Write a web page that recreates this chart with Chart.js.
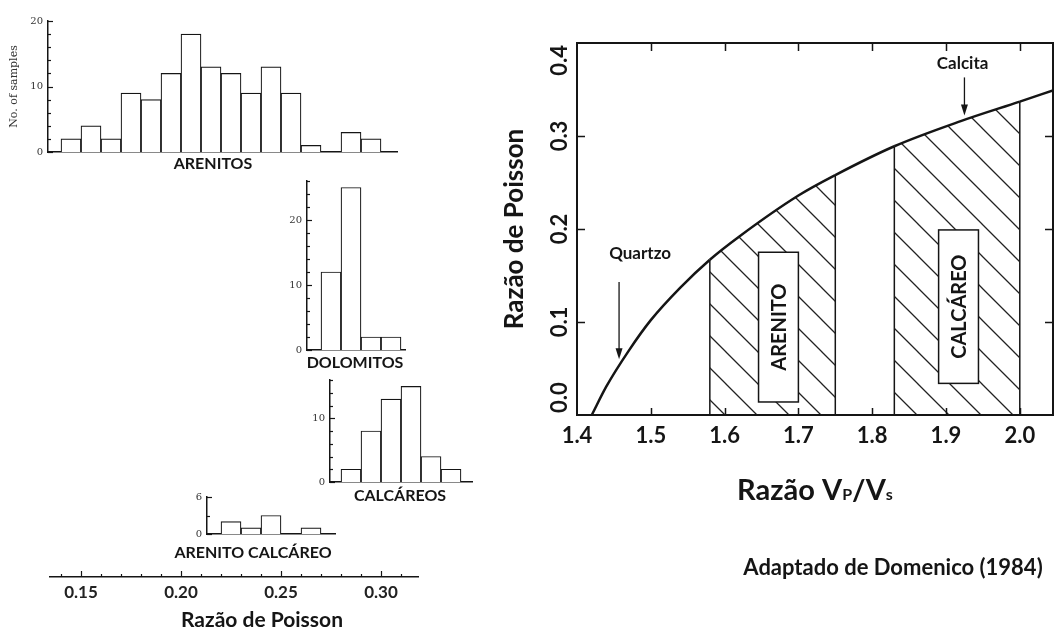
<!DOCTYPE html>
<html>
<head>
<meta charset="utf-8">
<script src="https://cdn.jsdelivr.net/npm/chart.js@4.4.1/dist/chart.umd.min.js"></script>
<style>
  html, body { margin: 0; padding: 0; background: #fff; }
  #wrap { position: relative; width: 1055px; height: 636px; overflow: hidden; background: #fff; }
  #wrap canvas { position: absolute; }
</style>
</head>
<body>
<div id="wrap"></div>
<script>
// ---- left: histograms (Poisson ratio bins, left edges, width 0.01) ----
const arenitosBins      = [0.14, 0.15, 0.16, 0.17, 0.18, 0.19, 0.20, 0.21, 0.22, 0.23, 0.24, 0.25, 0.26, 0.27, 0.28, 0.29];
const arenitosCounts    = [2, 4, 2, 9, 8, 12, 18, 13, 12, 9, 13, 9, 1, 0, 3, 2];
const dolomitosBins     = [0.27, 0.28, 0.29, 0.30];
const dolomitosCounts   = [12, 25, 2, 2];
const calcareosBins     = [0.28, 0.29, 0.30, 0.31, 0.32, 0.33];
const calcareosCounts   = [2, 8, 13, 15, 4, 2];
const arenitoCalcBins   = [0.22, 0.23, 0.24, 0.25, 0.26];
const arenitoCalcCounts = [2, 1, 3, 0, 1];
const binWidth = 0.01;

const poissonTicks      = [0.15, 0.20, 0.25, 0.30];
const poissonTickLabels = ['0.15', '0.20', '0.25', '0.30'];

// ---- right: Poisson ratio vs Vp/Vs ----
const vpvsRatio   = [1.42, 1.44, 1.47, 1.50, 1.54, 1.58, 1.62, 1.70, 1.75, 1.83, 1.92, 2.00, 2.045];
const poissonVal  = [0.000, 0.031, 0.069, 0.102, 0.137, 0.167, 0.192, 0.236, 0.258, 0.289, 0.316, 0.337, 0.349];
const arenitoRange  = [1.58, 1.75];
const calcareoRange = [1.83, 2.00];

const vpvsTicks       = [1.4, 1.5, 1.6, 1.7, 1.8, 1.9, 2.0];
const vpvsTickLabels  = ['1.4', '1.5', '1.6', '1.7', '1.8', '1.9', '2.0'];
const poisTicks       = [0.0, 0.1, 0.2, 0.3, 0.4];
const poisTickLabels  = ['0.0', '0.1', '0.2', '0.3', '0.4'];

const ink = '#151515';
const wrap = document.getElementById('wrap');

function addCanvas(left, top, w, h) {
  const c = document.createElement('canvas');
  c.width = w; c.height = h;
  c.style.left = left + 'px'; c.style.top = top + 'px';
  c.style.width = w + 'px'; c.style.height = h + 'px';
  wrap.appendChild(c);
  return c;
}

function labelFor(v, vals, labels) {
  const i = vals.findIndex(t => Math.abs(t - v) < 1e-6);
  return i >= 0 ? labels[i] : '';
}

// page x pixel <-> Poisson ratio on the left side
const toVal = px => 0.15 + (px - 81) / 2000;

const panels = [
  { name: 'ARENITOS', bins: arenitosBins, counts: arenitosCounts, yMax: 20, yStep: 2, yLabels: [0, 10, 20],
    axisX: 48, xEnd: 397, baseY: 152, topY: 18, nameX: 213, nameDy: 12, W: 48, yTitle: 'No. of samples' },
  { name: 'DOLOMITOS', bins: dolomitosBins, counts: dolomitosCounts, yMax: 26, yStep: 2, yLabels: [0, 10, 20],
    axisX: 307, xEnd: 405, baseY: 350, topY: 178, nameX: 355, nameDy: 13, W: 26 },
  { name: 'CALCÁREOS', bins: calcareosBins, counts: calcareosCounts, yMax: 16, yStep: 2, yLabels: [0, 10],
    axisX: 330, xEnd: 472, baseY: 482, topY: 377, nameX: 400, nameDy: 14, W: 26 },
  { name: 'ARENITO CALCÁREO', bins: arenitoCalcBins, counts: arenitoCalcCounts, yMax: 6, yStep: 3, yLabels: [0, 6],
    axisX: 207, xEnd: 335, baseY: 534, topY: 494, nameX: 253, nameDy: 19, W: 70 }
];

const histDecor = {
  id: 'histDecor',
  afterDraw(chart, args, o) {
    const { ctx, chartArea: a, scales: { y } } = chart;
    ctx.save();
    ctx.strokeStyle = ink; ctx.lineWidth = 1.2;
    y.ticks.forEach(t => {
      const py = Math.round(y.getPixelForValue(t.value)) + 0.5;
      const len = o.yLabels.includes(t.value) ? 5 : 3;
      ctx.beginPath(); ctx.moveTo(a.left, py); ctx.lineTo(a.left + len, py); ctx.stroke();
    });
    ctx.fillStyle = ink;
    ctx.font = 'bold 16px Lato';
    ctx.textAlign = 'center'; ctx.textBaseline = 'middle';
    ctx.fillText(o.name, o.nameX, a.bottom + o.nameDy);
    ctx.restore();
  }
};

const PT = 8, HB = 30;
panels.forEach(p => {
  const left = p.axisX - p.W, top = p.topY - PT;
  const w = p.W + (p.xEnd - p.axisX) + 2;
  const h = PT + (p.baseY - p.topY) + HB;
  const cv = addCanvas(left, top, w, h);
  new Chart(cv, {
    type: 'bar',
    data: {
      datasets: [{
        data: p.bins.map((b, i) => ({ x: b + binWidth / 2, y: p.counts[i] })),
        backgroundColor: '#fff',
        borderColor: ink,
        borderWidth: 1.2,
        barPercentage: 1,
        categoryPercentage: 1
      }]
    },
    options: {
      responsive: false, animation: false, devicePixelRatio: 1,
      layout: { padding: { top: PT, right: 2, bottom: 0, left: 0 } },
      plugins: {
        legend: { display: false }, tooltip: { enabled: false },
        histDecor: { yLabels: p.yLabels, name: p.name, nameX: p.nameX - left, nameDy: p.nameDy }
      },
      scales: {
        x: {
          type: 'linear', min: toVal(p.axisX), max: toVal(p.xEnd), offset: false,
          grid: { display: false, offset: false },
          border: { display: true, color: ink, width: 1.5 },
          ticks: { display: false },
          afterFit: s => { s.height = HB; }
        },
        y: {
          min: 0, max: p.yMax,
          grid: { display: false, drawTicks: false },
          border: { display: true, color: ink, width: 1.5 },
          ticks: {
            stepSize: p.yStep, autoSkip: false, padding: 5, color: '#333',
            font: { family: 'DejaVu Serif', size: 10 },
            callback: v => p.yLabels.includes(v) ? String(v) : ''
          },
          title: p.yTitle ? { display: true, text: p.yTitle, color: '#333',
                              font: { family: 'DejaVu Serif', size: 11 }, padding: { top: 8 } } : { display: false },
          afterFit: s => { s.width = p.W; }
        }
      }
    },
    plugins: [histDecor]
  });
});

// shared Poisson axis under the histograms
const axisDecor = {
  id: 'axisDecor',
  afterDraw(chart) {
    const { ctx, chartArea: a, scales: { x } } = chart;
    ctx.save();
    ctx.strokeStyle = ink; ctx.lineWidth = 1.2;
    x.ticks.forEach(t => {
      const k = t.value * 100;
      if (Math.abs(k - Math.round(k)) > 1e-6) return;
      const major = labelFor(t.value, poissonTicks, poissonTickLabels) !== '';
      const px = Math.round(x.getPixelForValue(t.value)) + 0.5;
      ctx.beginPath(); ctx.moveTo(px, a.bottom); ctx.lineTo(px, a.bottom - (major ? 6 : 3)); ctx.stroke();
    });
    ctx.fillStyle = ink;
    ctx.font = 'bold 21px Lato';
    ctx.textAlign = 'center'; ctx.textBaseline = 'middle';
    ctx.fillText('Razão de Poisson', x.getPixelForValue(0.2405), a.bottom + 43);
    ctx.restore();
  }
};

new Chart(addCanvas(30, 540, 420, 96), {
  type: 'line',
  data: { datasets: [] },
  options: {
    responsive: false, animation: false, devicePixelRatio: 1,
    layout: { padding: { left: 20, right: 32, top: 30, bottom: 0 } },
    plugins: { legend: { display: false }, tooltip: { enabled: false } },
    scales: {
      x: {
        type: 'linear', min: toVal(50), max: toVal(418),
        grid: { display: false, drawTicks: false },
        border: { display: true, color: ink, width: 1.5 },
        ticks: {
          stepSize: 0.01, includeBounds: false, autoSkip: false, maxRotation: 0, padding: 5,
          color: '#222', font: { family: 'Lato', weight: 'bold', size: 17 },
          callback: v => labelFor(v, poissonTicks, poissonTickLabels)
        },
        afterFit: s => { s.height = 59; }
      },
      y: { display: false }
    }
  },
  plugins: [axisDecor]
});

// ---- right chart ----
function makeHatch(step) {
  const c = document.createElement('canvas');
  c.width = c.height = step;
  const g = c.getContext('2d');
  g.strokeStyle = '#222'; g.lineWidth = 1.3;
  g.beginPath();
  g.moveTo(0, 0); g.lineTo(step, step);
  g.moveTo(-3, step - 3); g.lineTo(3, step + 3);
  g.moveTo(step - 3, -3); g.lineTo(step + 3, 3);
  g.stroke();
  return g.createPattern(c, 'repeat');
}
const hatch = makeHatch(32);
const hatchRanges = [arenitoRange, calcareoRange];
const inHatch = (x0, x1) => hatchRanges.some(r => x0 >= r[0] - 1e-9 && x1 <= r[1] + 1e-9);

const curvePoints = vpvsRatio.map((v, i) => ({ x: v, y: poissonVal[i] }));
const edgeLine = xv => ({
  data: [{ x: xv, y: 0 }, { x: xv, y: poissonVal[vpvsRatio.indexOf(xv)] }],
  borderColor: ink, borderWidth: 1.5, pointRadius: 0, fill: false
});

// annotation placement (data units)
const boxes = [
  { text: 'ARENITO',  x0: 1.646, x1: 1.700, y0: 0.014, y1: 0.175 },
  { text: 'CALCÁREO', x0: 1.890, x1: 1.944, y0: 0.034, y1: 0.199 }
];
const pointers = [
  { text: 'Quartzo', tx: 1.4855, ty: 0.174, ax: 1.457, ay0: 0.143, ay1: 0.060 },
  { text: 'Calcita', tx: 1.9225, ty: 0.378, ax: 1.925, ay0: 0.363, ay1: 0.322 }
];

const sketchDecor = {
  id: 'sketchDecor',
  afterDatasetsDraw(chart) {
    const { ctx, chartArea: a, scales: { x, y } } = chart;
    ctx.save();
    ctx.strokeStyle = ink; ctx.fillStyle = ink;

    // frame
    ctx.lineWidth = 2;
    ctx.strokeRect(a.left, a.top, a.right - a.left, a.bottom - a.top);

    // inward ticks
    ctx.lineWidth = 1.5;
    vpvsTicks.slice(1).forEach(v => {
      const px = Math.round(x.getPixelForValue(v)) + 0.5;
      ctx.beginPath();
      ctx.moveTo(px, a.top); ctx.lineTo(px, a.top + 8);
      ctx.moveTo(px, a.bottom); ctx.lineTo(px, a.bottom - 7);
      ctx.stroke();
    });
    poisTicks.slice(1, -1).forEach(v => {
      const py = Math.round(y.getPixelForValue(v)) + 0.5;
      ctx.beginPath();
      ctx.moveTo(a.left, py); ctx.lineTo(a.left + 8, py);
      ctx.moveTo(a.right, py); ctx.lineTo(a.right - 8, py);
      ctx.stroke();
    });

    // rotated y tick labels
    ctx.font = 'bold 22px Lato';
    ctx.textAlign = 'center'; ctx.textBaseline = 'middle';
    poisTicks.forEach((v, i) => {
      const t = poisTickLabels[i];
      const hw = ctx.measureText(t).width / 2;
      let py = y.getPixelForValue(v);
      py = Math.min(Math.max(py, a.top + hw + 2), a.bottom - hw - 2);
      ctx.save(); ctx.translate(a.left - 17, py); ctx.rotate(-Math.PI / 2);
      ctx.fillText(t, 0, 0); ctx.restore();
    });

    // labelled boxes
    boxes.forEach(b => {
      const x0 = x.getPixelForValue(b.x0), x1 = x.getPixelForValue(b.x1);
      const y0 = y.getPixelForValue(b.y0), y1 = y.getPixelForValue(b.y1);
      ctx.fillStyle = '#fff';
      ctx.fillRect(x0, y1, x1 - x0, y0 - y1);
      ctx.lineWidth = 1.5; ctx.strokeRect(x0, y1, x1 - x0, y0 - y1);
      ctx.fillStyle = ink;
      ctx.font = 'bold 20px Lato';
      ctx.save(); ctx.translate((x0 + x1) / 2, (y0 + y1) / 2); ctx.rotate(-Math.PI / 2);
      ctx.fillText(b.text, 0, 1); ctx.restore();
    });

    // pointers
    pointers.forEach(p => {
      ctx.font = 'bold 17px Lato';
      ctx.fillText(p.text, x.getPixelForValue(p.tx), y.getPixelForValue(p.ty));
      const px = x.getPixelForValue(p.ax);
      const pa = y.getPixelForValue(p.ay0), pb = y.getPixelForValue(p.ay1);
      ctx.lineWidth = 1.3;
      ctx.beginPath(); ctx.moveTo(px, pa); ctx.lineTo(px, pb - 8); ctx.stroke();
      ctx.beginPath(); ctx.moveTo(px, pb); ctx.lineTo(px - 3.5, pb - 11); ctx.lineTo(px + 3.5, pb - 11);
      ctx.closePath(); ctx.fill();
    });

    // x title with small P / s
    const parts = [['Razão V', 29], ['P', 16], ['/V', 29], ['s', 16]];
    let total = 0;
    const widths = parts.map(p => { ctx.font = `bold ${p[1]}px Lato`; const w = ctx.measureText(p[0]).width; total += w; return w; });
    let cx = (a.left + a.right) / 2 - total / 2;
    ctx.textAlign = 'left'; ctx.textBaseline = 'alphabetic';
    parts.forEach((p, i) => {
      ctx.font = `bold ${p[1]}px Lato`;
      ctx.fillText(p[0], cx, a.bottom + 85);
      cx += widths[i];
    });

    // source note
    ctx.font = 'bold 22px Lato';
    ctx.textAlign = 'center';
    ctx.fillText('Adaptado de Domenico (1984)', 423, a.bottom + 160);
    ctx.restore();
  }
};

new Chart(addCanvas(470, 0, 585, 636), {
  type: 'line',
  data: {
    datasets: [
      {
        data: curvePoints,
        borderColor: ink, borderWidth: 2.5, pointRadius: 0,
        cubicInterpolationMode: 'monotone',
        fill: 'origin',
        backgroundColor: 'rgba(0,0,0,0)',
        segment: {
          backgroundColor: c => inHatch(c.p0.parsed.x, c.p1.parsed.x) ? hatch : 'rgba(0,0,0,0)'
        }
      },
      edgeLine(arenitoRange[0]), edgeLine(arenitoRange[1]),
      edgeLine(calcareoRange[0]), edgeLine(calcareoRange[1])
    ]
  },
  options: {
    responsive: false, animation: false, devicePixelRatio: 1,
    layout: { padding: { top: 43, right: 2, bottom: 0, left: 0 } },
    plugins: { legend: { display: false }, tooltip: { enabled: false } },
    scales: {
      x: {
        type: 'linear', min: 1.4, max: 2.045,
        grid: { display: false, drawTicks: false },
        border: { display: false },
        ticks: {
          stepSize: 0.1, includeBounds: false, autoSkip: false, maxRotation: 0, padding: 8,
          color: ink, font: { family: 'Lato', weight: 'bold', size: 22 },
          callback: v => labelFor(v, vpvsTicks, vpvsTickLabels)
        },
        afterFit: s => { s.height = 221; }
      },
      y: {
        type: 'linear', min: 0, max: 0.4,
        grid: { display: false, drawTicks: false },
        border: { display: false },
        ticks: { display: false },
        title: { display: true, text: 'Razão de Poisson', color: ink,
                 font: { family: 'Lato', weight: 'bold', size: 26 }, padding: { top: 29 } },
        afterFit: s => { s.width = 107; }
      }
    }
  },
  plugins: [sketchDecor]
});
</script>
</body>
</html>
